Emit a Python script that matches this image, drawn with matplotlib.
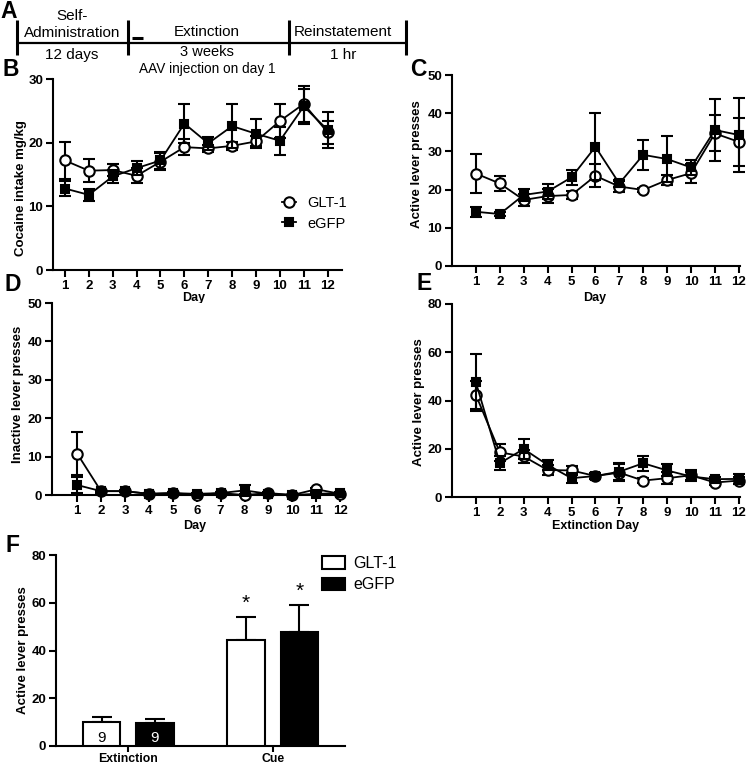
import numpy as np
import matplotlib
matplotlib.use("Agg")
import matplotlib.pyplot as plt
from matplotlib.lines import Line2D
from matplotlib.patches import Patch
from matplotlib import transforms

plt.rcParams['font.family'] = ['Liberation Sans', 'DejaVu Sans']

# ---------------- data ----------------
days = np.arange(1, 13)

# B: cocaine intake (mg/kg)
intake_glt1 = [17.2, 15.6, 15.7, 14.8, 17.0, 19.3, 19.1, 19.5, 20.2, 23.4, 26.1, 21.6]
intake_glt1_sem = [2.9, 1.8, 1.0, 1.2, 1.3, 1.2, 0.6, 0.6, 0.8, 2.6, 2.8, 1.8]
intake_egfp = [12.8, 11.8, 14.7, 16.0, 17.2, 23.0, 19.9, 22.6, 21.4, 20.3, 25.7, 22.0]
intake_egfp_sem = [1.2, 0.9, 1.0, 1.1, 1.3, 3.1, 1.0, 3.5, 2.3, 2.2, 2.7, 2.8]

# C: active lever presses, self-administration
active_glt1 = [24.2, 21.6, 17.3, 18.3, 18.6, 23.6, 20.8, 19.9, 22.5, 24.3, 34.7, 32.5]
active_glt1_sem = [5.0, 2.0, 1.5, 1.8, 1.0, 3.0, 1.5, 0.5, 1.3, 2.5, 4.7, 6.2]
active_egfp = [14.2, 13.6, 18.6, 19.5, 23.2, 31.2, 21.6, 29.1, 28.0, 25.8, 35.6, 34.3]
active_egfp_sem = [1.3, 0.5, 1.5, 2.0, 2.0, 8.8, 1.0, 3.9, 6.0, 2.0, 8.2, 9.7]

# D: inactive lever presses
inactive_glt1 = [10.8, 1.0, 1.0, 0.3, 0.5, 0.0, 0.5, 0.0, 0.5, 0.0, 1.5, 0.3]
inactive_glt1_sem = [5.7, 0.3, 0.3, 0.2, 0.2, 0.1, 0.2, 0.2, 0.2, 0.1, 0.4, 0.3]
inactive_egfp = [2.6, 1.0, 1.0, 0.3, 0.5, 0.3, 0.5, 1.2, 0.3, 0.0, 0.3, 0.5]
inactive_egfp_sem = [2.0, 0.4, 0.3, 0.2, 0.2, 0.2, 0.3, 1.4, 0.2, 0.1, 0.2, 0.3]

# E: active lever presses, extinction
ext_glt1 = [42.3, 18.5, 16.8, 11.2, 11.0, 8.7, 10.1, 6.8, 7.8, 9.0, 6.0, 6.8]
ext_glt1_sem = [5.8, 3.5, 2.5, 2.0, 2.0, 1.2, 3.5, 1.0, 2.5, 2.0, 1.0, 1.5]
ext_egfp = [47.5, 14.0, 19.9, 13.3, 7.8, 8.7, 10.5, 14.0, 11.0, 8.5, 7.4, 7.5]
ext_egfp_sem = [11.7, 2.8, 4.1, 2.0, 2.0, 1.2, 3.5, 3.1, 2.5, 2.0, 1.0, 2.0]

# F: reinstatement
f_groups = ['Extinction', 'Cue']
f_glt1 = [10.2, 44.4]
f_glt1_sem = [2.1, 9.8]
f_egfp = [9.5, 47.9]
f_egfp_sem = [1.8, 11.1]
f_n = ['9', '9']
f_sig = ['', '*']

series_names = ['GLT-1', 'eGFP']

# timeline (panel A)
stage_titles = [['Self-', 'Administration'], ['Extinction'], ['Reinstatement']]
stage_durations = ['12 days', '3 weeks', '1 hr']
stage_notes = ['', 'AAV injection on day 1', '']

# ---------------- figure ----------------
W, H = 752, 765
fig = plt.figure(figsize=(W / 100, H / 100), dpi=100)


def px_axes(l, t, r, b):
    return fig.add_axes([l / W, 1 - b / H, (r - l) / W, (b - t) / H])


def style(ax, xlim, ylim, yticks, xlabel, ylabel, xlab_pos, ylab_pos, xticks=days):
    for s in ['top', 'right']:
        ax.spines[s].set_visible(False)
    for s in ['left', 'bottom']:
        ax.spines[s].set_linewidth(1.5)
    ax.set_xlim(xlim)
    ax.set_ylim(ylim)
    ax.set_xticks(xticks)
    ax.set_yticks(yticks)
    ax.tick_params(axis='both', direction='out', length=5, width=1.5)
    ax.tick_params(axis='x', labelsize=9.5, pad=2)
    ax.tick_params(axis='y', labelsize=9.5, pad=2)
    for lab in ax.get_xticklabels() + ax.get_yticklabels():
        lab.set_fontweight('bold')
    if xlabel:
        ax.set_xlabel(xlabel, fontsize=9, fontweight='bold')
        ax.xaxis.set_label_coords(*xlab_pos)
    ax.set_ylabel(ylabel, fontsize=9.5, fontweight='bold')
    ax.yaxis.set_label_coords(*ylab_pos)


def series(ax, y, e, marker, mfc, ms, z):
    ax.errorbar(days, y, yerr=e, fmt='none', ecolor='black', elinewidth=1.5,
                capsize=4, capthick=1.5, zorder=z, clip_on=False)
    ax.plot(days, y, color='black', lw=1.3, marker=marker, ms=ms, mfc=mfc,
            mec='black', mew=1.5, zorder=z + 0.5, clip_on=False)


def two_series(ax, g, gs, e, es):
    series(ax, g, gs, 'o', 'white', 7.5, 3)
    series(ax, e, es, 's', 'black', 5.5, 4)


# ---- Panel A: timeline ----
axA = fig.add_axes([0, 1 - 80 / H, 1, 80 / H])
axA.set_xlim(0, W)
axA.set_ylim(80, 0)
axA.axis('off')
bounds = [17, 128, 289, 406]
axA.plot([bounds[0], bounds[-1]], [42.7, 42.7], color='black', lw=1.6, solid_capstyle='butt')
for b in bounds:
    axA.plot([b, b], [20, 55], color='black', lw=2.2, solid_capstyle='butt')
axA.plot([132, 143], [37.5, 37.5], color='black', lw=2.2, solid_capstyle='butt')
centers = [72, 207, 343]
title_y = [[16, 33], [32.5], [32]]
for i, c in enumerate(centers):
    for t, yy in zip(stage_titles[i], title_y[i]):
        axA.text(c, yy, t, ha='center', va='center', fontsize=11)
    axA.text(c, 55 if i != 1 else 52, stage_durations[i], ha='center', va='center',
             fontsize=11 if i != 1 else 10.5)
    if stage_notes[i]:
        axA.text(c, 69, stage_notes[i], ha='center', va='center', fontsize=9.8)

# ---- Panel B ----
axB = px_axes(53, 79, 342, 270)
two_series(axB, intake_glt1, intake_glt1_sem, intake_egfp, intake_egfp_sem)
style(axB, (0.5, 12.6), (0, 30), [0, 10, 20, 30], 'Day', 'Cocaine intake mg/kg',
      (0.488, -0.115), (-0.09, 0.43))
hB = [Line2D([], [], color='black', lw=1.3, marker='o', ms=7.5, mfc='white', mec='black', mew=1.5),
      Line2D([], [], color='black', lw=1.3, marker='s', ms=5.5, mfc='black', mec='black', mew=1.5)]
fig.legend(hB, series_names, loc='upper left', bbox_to_anchor=(282 / W, 1 - 196 / H),
           frameon=False, fontsize=10.5, handlelength=0.95, handletextpad=0.8,
           labelspacing=0.45, borderpad=0, borderaxespad=0)

# ---- Panel C ----
axC = px_axes(452, 75, 740, 266)
two_series(axC, active_glt1, active_glt1_sem, active_egfp, active_egfp_sem)
style(axC, (0, 12.05), (0, 50), [0, 10, 20, 30, 40, 50], 'Day', 'Active lever presses',
      (0.497, -0.136), (-0.1, 0.534))

# ---- Panel D ----
axD = px_axes(52, 303, 345, 495)
two_series(axD, inactive_glt1, inactive_glt1_sem, inactive_egfp, inactive_egfp_sem)
style(axD, (-0.05, 12.2), (0, 50), [0, 10, 20, 30, 40, 50], 'Day', 'Inactive lever presses',
      (0.488, -0.13), (-0.097, 0.523))

# ---- Panel E ----
axE = px_axes(452, 304, 740, 497)
two_series(axE, ext_glt1, ext_glt1_sem, ext_egfp, ext_egfp_sem)
style(axE, (0, 12.05), (0, 80), [0, 20, 40, 60, 80], 'Extinction Day', 'Active lever presses',
      (0.5, -0.119), (-0.095, 0.49))

# ---- Panel F ----
axF = px_axes(56, 555, 345, 746)
x = np.arange(len(f_groups))
off, bw = 0.185, 0.257
axF.bar(x - off, f_glt1, bw, color='white', edgecolor='black', linewidth=1.5, zorder=3)
axF.bar(x + off, f_egfp, bw, color='black', edgecolor='black', linewidth=1.5, zorder=3)
axF.errorbar(x - off, f_glt1, yerr=[np.zeros(len(x)), f_glt1_sem], fmt='none', ecolor='black',
             elinewidth=1.5, capsize=7, capthick=1.5, zorder=2)
axF.errorbar(x + off, f_egfp, yerr=[np.zeros(len(x)), f_egfp_sem], fmt='none', ecolor='black',
             elinewidth=1.5, capsize=7, capthick=1.5, zorder=2)
style(axF, (-0.5, 1.5), (0, 80), [0, 20, 40, 60, 80], None, 'Active lever presses',
      None, (-0.092, 0.503), xticks=x)
axF.set_xticklabels(f_groups)
axF.tick_params(axis='x', labelsize=8.8, pad=1, length=4)
for lab in axF.get_xticklabels():
    lab.set_fontweight('bold')
tr = transforms.blended_transform_factory(axF.transData, axF.transAxes)
axF.text(x[0] - off, 0.042, f_n[0], transform=tr, ha='center', va='center', fontsize=11, color='black', zorder=5)
axF.text(x[0] + off, 0.042, f_n[1], transform=tr, ha='center', va='center', fontsize=11, color='white', zorder=5)
for i in range(len(x)):
    if f_sig[i]:
        axF.annotate(f_sig[i], (x[i] - off, f_glt1[i] + f_glt1_sem[i]), xytext=(0, 3),
                     textcoords='offset points', ha='center', va='bottom', fontsize=15)
        axF.annotate(f_sig[i], (x[i] + off, f_egfp[i] + f_egfp_sem[i]), xytext=(0, 3),
                     textcoords='offset points', ha='center', va='bottom', fontsize=15)
hF = [Patch(facecolor='white', edgecolor='black', linewidth=1.5),
      Patch(facecolor='black', edgecolor='black', linewidth=1.5)]
fig.legend(hF, series_names, loc='upper left', bbox_to_anchor=(322 / W, 1 - 556 / H),
           frameon=False, fontsize=11.5, handlelength=1.45, handleheight=0.8,
           handletextpad=0.5, labelspacing=0.4, borderpad=0, borderaxespad=0)

# ---- panel letters ----
for lab, (lx, ly) in zip('ABCDEF', [(0, 17.5), (3, 76), (410, 76), (5, 291), (417, 290), (6, 552)]):
    fig.text(lx / W, 1 - ly / H, lab, fontsize=16.5, fontweight='bold', ha='left', va='baseline')

fig.savefig('out.png', dpi=100)
